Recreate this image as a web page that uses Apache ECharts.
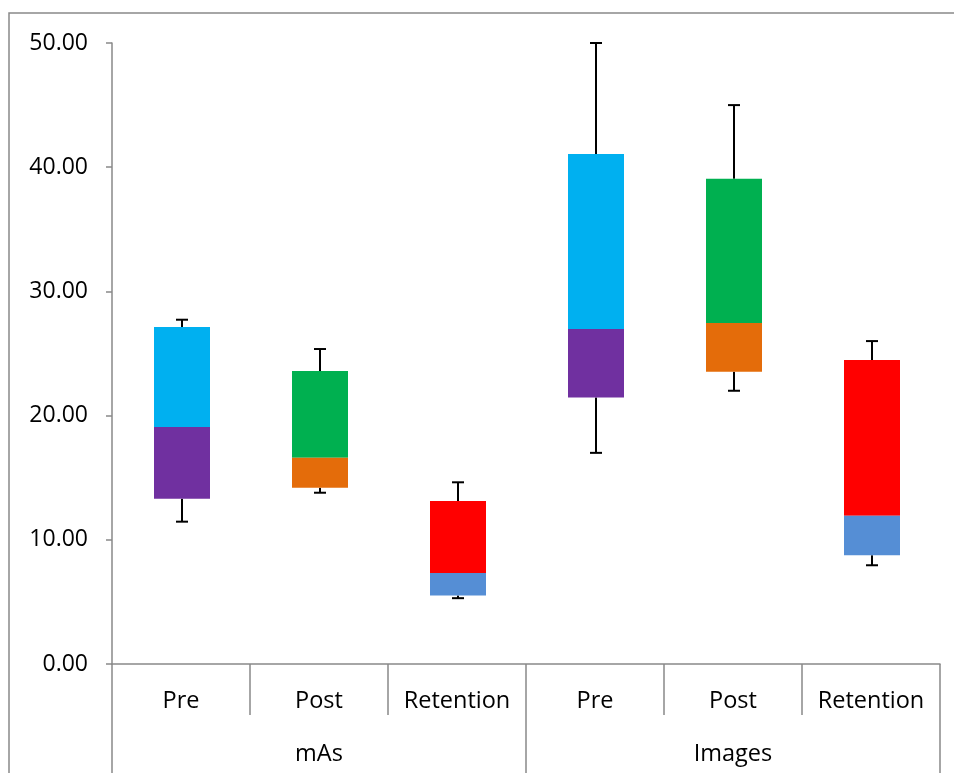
<!DOCTYPE html>
<html>
<head>
<meta charset="utf-8">
<script src="https://cdn.jsdelivr.net/npm/echarts@6/dist/echarts.min.js"></script>
<style>
html,body{margin:0;padding:0;background:#fff;}
#chart{width:954px;height:773px;}
</style>
</head>
<body>
<div id="chart"></div>
<script>
// Category labels
var categories = ['Pre', 'Post', 'Retention', 'Pre', 'Post', 'Retention'];
var groups = ['mAs', 'Images'];
// Box statistics per category
var minValues    = [11.46, 13.79, 5.3, 17.0, 22.0, 7.95];
var q1Values     = [13.3, 14.2, 5.52, 21.46, 23.53, 8.75];
var medianValues = [19.08, 16.6, 7.33, 26.98, 27.46, 11.93];
var q3Values     = [27.13, 23.59, 13.12, 41.07, 39.06, 24.48];
var maxValues    = [27.72, 25.36, 14.63, 50.0, 45.0, 26.0];
// Y axis ticks
var yTicks = [0, 10, 20, 30, 40, 50];

var upperColors = ['#00B0F0', '#00B050', '#FF0000', '#00B0F0', '#00B050', '#FF0000'];
var lowerColors = ['#7030A0', '#E46C0A', '#558ED5', '#7030A0', '#E46C0A', '#558ED5'];

var data = categories.map(function (c, i) {
  return [i, minValues[i], q1Values[i], medianValues[i], q3Values[i], maxValues[i]];
});

function renderItem(params, api) {
  var x = api.value(0);
  var pMin = api.coord([x, api.value(1)]);
  var pQ1 = api.coord([x, api.value(2)]);
  var pMed = api.coord([x, api.value(3)]);
  var pQ3 = api.coord([x, api.value(4)]);
  var pMax = api.coord([x, api.value(5)]);
  var bw = 56;
  var cap = 12;
  var cx = Math.round(pMin[0]) + 1;
  var left = cx - bw / 2;
  var i = params.dataIndex;
  var lineStyle = {stroke: '#000', lineWidth: 2};
  return {
    type: 'group',
    children: [
      {type: 'line', shape: {x1: cx, y1: pQ3[1], x2: cx, y2: pMax[1]}, style: lineStyle},
      {type: 'line', shape: {x1: cx - cap / 2, y1: pMax[1], x2: cx + cap / 2, y2: pMax[1]}, style: lineStyle},
      {type: 'line', shape: {x1: cx, y1: pQ1[1], x2: cx, y2: pMin[1]}, style: lineStyle},
      {type: 'line', shape: {x1: cx - cap / 2, y1: pMin[1], x2: cx + cap / 2, y2: pMin[1]}, style: lineStyle},
      {type: 'rect', shape: {x: left, y: pQ3[1], width: bw, height: pMed[1] - pQ3[1]}, style: {fill: upperColors[i]}},
      {type: 'rect', shape: {x: left, y: pMed[1], width: bw, height: pQ1[1] - pMed[1]}, style: {fill: lowerColors[i]}}
    ]
  };
}

var chart = echarts.init(document.getElementById('chart'), null, {renderer: 'canvas'});
var fontFamily = '"Open Sans", "Noto Sans", sans-serif';
var axisColor = '#898989';
chart.setOption({
  animation: false,
  backgroundColor: '#fff',
  graphic: [{
    type: 'rect',
    shape: {x: 9, y: 13, width: 1000, height: 900},
    style: {fill: 'none', stroke: axisColor, lineWidth: 1.5},
    silent: true,
    z: -10
  }],
  grid: {left: 112, right: 14, top: 43, bottom: 109, containLabel: false},
  xAxis: [{
    type: 'category',
    data: categories,
    position: 'bottom',
    axisLine: {show: true, lineStyle: {color: axisColor, width: 1.5}},
    axisTick: {show: true, length: 51, lineStyle: {color: axisColor, width: 1.5}},
    axisLabel: {color: '#000', fontFamily: fontFamily, fontSize: 23.5, margin: 25, interval: 0},
    splitLine: {show: false}
  }, {
    type: 'category',
    data: groups,
    position: 'bottom',
    gridIndex: 0,
    axisLine: {show: false},
    axisTick: {show: true, length: 109, lineStyle: {color: axisColor, width: 1.5}},
    axisLabel: {color: '#000', fontFamily: fontFamily, fontSize: 23.5, margin: 78, interval: 0},
    splitLine: {show: false}
  }],
  yAxis: {
    type: 'value',
    min: yTicks[0],
    max: yTicks[yTicks.length - 1],
    interval: yTicks[1] - yTicks[0],
    axisLine: {show: true, lineStyle: {color: axisColor, width: 1.5}},
    axisTick: {show: true, length: 6, lineStyle: {color: axisColor, width: 1.5}},
    axisLabel: {
      color: '#000', fontFamily: fontFamily, fontSize: 23, margin: 24,
      formatter: function (v) { return v.toFixed(2); }
    },
    splitLine: {show: false}
  },
  series: [{
    type: 'custom',
    xAxisIndex: 0,
    renderItem: renderItem,
    encode: {x: 0, y: [1, 2, 3, 4, 5]},
    data: data,
    z: 5
  }]
});
</script>
</body>
</html>
